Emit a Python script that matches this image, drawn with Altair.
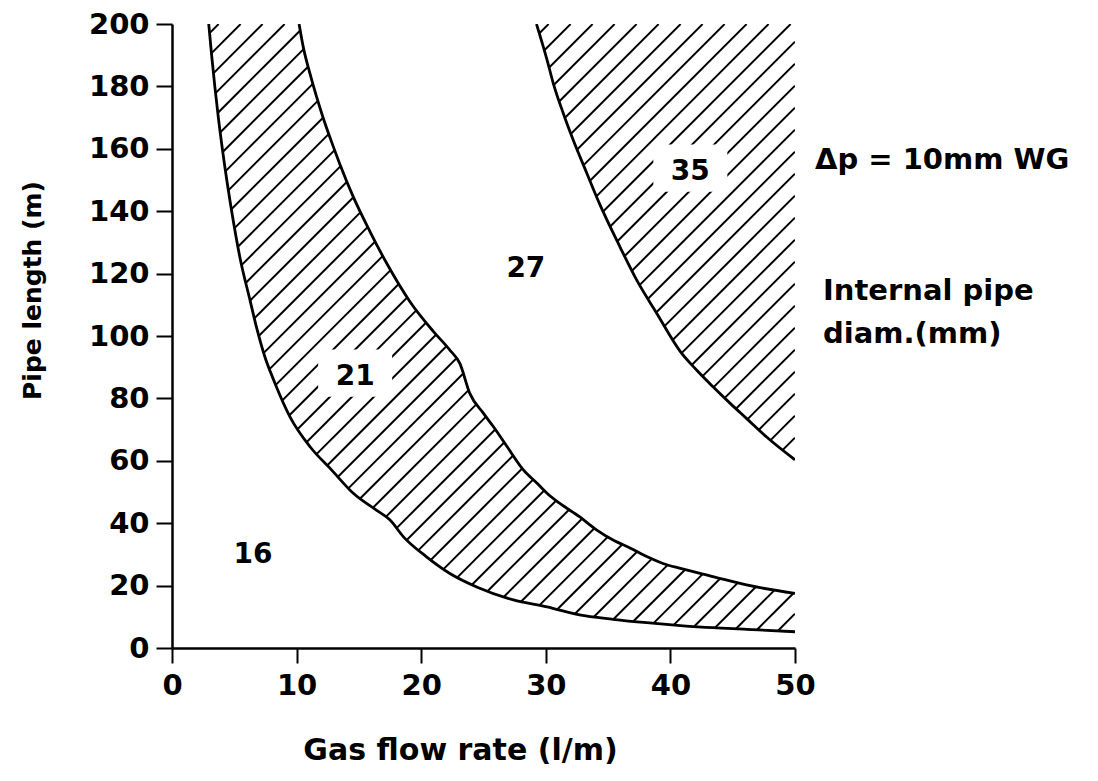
import altair as alt
import numpy as np
import pandas as pd

# ---------------- data ----------------
# boundary 16 mm | 21 mm
a_x = [2.95, 3.18, 3.72, 4.25, 4.79, 5.46, 6.26, 6.8, 7.4, 8.27, 9.47, 11.08, 12.8, 14.55,
       16.4, 17.5, 18.56, 20.4, 22.3, 24.5, 27.4, 30.1, 32.7, 35.4, 38.1, 40.8, 43.4, 46.1, 50.0]
a_y = [200, 190, 170, 154, 140, 125, 111.5, 102.5, 94, 84.8, 74.1, 64.5, 57.1, 49.6,
       44.2, 41.0, 35.7, 29.3, 23.9, 19.5, 15.4, 13.2, 10.6, 9.2, 8.1, 7.2, 6.5, 6.0, 5.2]
# boundary 21 mm | 27 mm
b_x = [10.2, 10.54, 11.08, 11.6, 12.14, 12.8, 13.48, 14.55, 15.9, 17.23, 19.1, 20.97, 22.3,
       23.1, 23.9, 25.0, 25.8, 26.9, 28.2, 29.3, 30.1, 31.1, 32.7, 34.1, 35.4, 36.8, 38.1,
       39.4, 40.8, 43.4, 46.1, 50.0]
b_y = [200, 192.5, 184.0, 176.7, 169.8, 162.3, 155.0, 144.6, 133.4, 123.3, 111.0, 101.5, 95.5,
       91.2, 81.6, 75.2, 70.9, 64.5, 57.1, 52.8, 49.6, 46.4, 42.1, 37.8, 34.6, 32.0, 29.3,
       27.1, 25.5, 22.9, 20.2, 17.5]
# boundary 27 mm | 35 mm
c_x = [29.25, 30.1, 30.6, 31.4, 32.2, 33.3, 34.3, 35.95, 37.3, 38.9, 40.8, 42.1, 43.4, 44.8,
       46.1, 47.7, 50.0]
c_y = [200, 188.5, 181, 171.4, 162.8, 152.1, 142.5, 128.6, 117.9, 107.3, 95.0, 89.1, 83.8,
       78.4, 73.6, 67.7, 60.3]

# region labels (internal pipe diameter, mm)
label_text = ["16", "21", "27", "35"]
label_x = [6.5, 14.7, 28.4, 41.6]
label_y = [27.2, 84.3, 118.9, 150.0]      # text baseline
label_cy = [31.2, 88.1, 122.8, 153.8]     # visual centre (gap in hatching)

# notes right of the plot
note_text = ["\u0394p = 10mm WG", "Internal pipe", "diam.(mm)"]
note_x = [51.6, 52.25, 52.25]
note_y = [153.5, 111.5, 97.8]

x_ticks = [0, 10, 20, 30, 40, 50]
y_ticks = [0, 20, 40, 60, 80, 100, 120, 140, 160, 180, 200]

# ---------------- layout / style ----------------
X_MAX, Y_MAX = 50, 200
W, H = 623, 624
HATCH_STEP = 22.0     # px, vertical distance between hatch lines
HATCH_PHASE = -16.7   # px
FONT = "DejaVu Sans"

# ---------------- hatch geometry (45 deg lines clipped to hatched bands) ----------------
u = np.arange(0, W + 0.001, 0.2)


def curve_v(cx, cy):
    cu = np.asarray(cx, float) * W / X_MAX
    cv = np.asarray(cy, float) * H / Y_MAX
    v = np.interp(u, cu, cv)
    v[u < cu[0]] = np.inf
    return v


Av, Bv, Cv = curve_v(a_x, a_y), curve_v(b_x, b_y), curve_v(c_x, c_y)
bands = [(Av, np.minimum(Bv, H)), (Cv, np.full_like(u, float(H)))]

segs = []
for c in np.arange(HATCH_PHASE - HATCH_STEP * 40, H + 1, HATCH_STEP):
    v = u + c
    for lo, hi in bands:
        m = (v > lo) & (v < hi) & (v >= 0)
        if not m.any():
            continue
        idx = np.flatnonzero(m)
        br = np.flatnonzero(np.diff(idx) > 1)
        starts = np.r_[idx[0], idx[br + 1]]
        ends = np.r_[idx[br], idx[-1]]
        for s, e in zip(starts, ends):
            if e - s < 2:
                continue
            segs.append((u[s] * X_MAX / W, v[s] * Y_MAX / H, u[e] * X_MAX / W, v[e] * Y_MAX / H))
hatch_df = pd.DataFrame(segs, columns=["x", "y", "x2", "y2"])

curve_df = pd.concat([
    pd.DataFrame({"x": a_x, "y": a_y, "curve": "A", "i": range(len(a_x))}),
    pd.DataFrame({"x": b_x, "y": b_y, "curve": "B", "i": range(len(b_x))}),
    pd.DataFrame({"x": c_x, "y": c_y, "curve": "C", "i": range(len(c_x))}),
])
label_df = pd.DataFrame({"x": label_x, "y": label_y, "cy": label_cy, "text": label_text})
note_df = pd.DataFrame({"x": note_x, "y": note_y, "text": note_text})

# ---------------- scales & axes ----------------
x_scale = alt.Scale(domain=[0, X_MAX], nice=False, zero=True)
y_scale = alt.Scale(domain=[0, Y_MAX], nice=False, zero=True)

common_axis = dict(
    labelFont=FONT, labelFontWeight="bold", labelFontSize=29, labelColor="black",
    labelFlush=False, labelOverlap=False,
    tickColor="black", tickWidth=2, domainColor="black", domainWidth=2.5, grid=False,
    titleFont=FONT, titleFontWeight="bold", titleColor="black",
    titleAlign="center", titleBaseline="middle", format="d",
)
x_axis = alt.Axis(values=x_ticks, title="Gas flow rate (l/m)", tickSize=15, labelPadding=8,
                  titleFontSize=30, titleX=288, titleY=102, **common_axis)
y_axis = alt.Axis(values=y_ticks, title="Pipe length (m)", tickSize=16, labelPadding=7,
                  titleFontSize=25, titleX=-140, titleY=266, titleAngle=270, **common_axis)


def X(f="x"):
    return alt.X(f"{f}:Q", scale=x_scale, axis=x_axis)


def Y(f="y"):
    return alt.Y(f"{f}:Q", scale=y_scale, axis=y_axis)


hatch = alt.Chart(hatch_df).mark_rule(color="black", strokeWidth=2, clip=True).encode(
    x=X(), y=Y(), x2="x2:Q", y2="y2:Q")

halo = alt.Chart(label_df).mark_point(
    shape="M-1,-0.64L1,-0.64L1,0.64L-1,0.64Z", size=74 * 74, filled=True,
    color="white", opacity=1, strokeWidth=0).encode(x=X(), y=Y("cy"))

curves = alt.Chart(curve_df).mark_line(color="black", strokeWidth=2.8, clip=True,
                                       interpolate="monotone").encode(
    x=X(), y=Y(), detail="curve:N", order="i:Q")

labels = alt.Chart(label_df).mark_text(
    font=FONT, fontWeight="bold", fontSize=28, baseline="alphabetic", align="center",
    color="black").encode(x=X(), y=Y(), text="text:N")

notes = alt.Chart(note_df).mark_text(
    font=FONT, fontWeight="bold", fontSize=29, baseline="alphabetic", align="left",
    color="black").encode(x=X(), y=Y(), text="text:N")

chart = alt.layer(hatch, halo, curves, labels, notes).properties(
    width=W, height=H,
    padding={"left": 164, "top": 16, "right": 295, "bottom": 132},
    autosize=alt.AutoSizeParams(type="none"),
    background="white",
).configure_view(stroke=None)

chart.save("out.html", embed_options={"renderer": "svg", "actions": False})
